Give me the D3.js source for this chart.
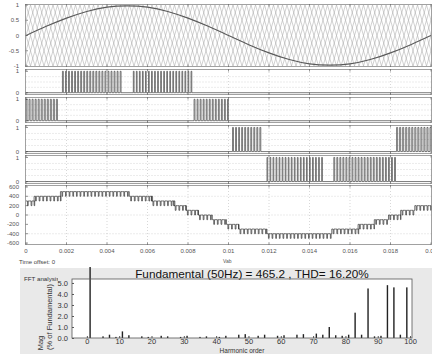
<!DOCTYPE html>
<html>
<head>
<meta charset="utf-8">
<script src="https://cdn.jsdelivr.net/npm/d3@7"></script>
<style>
  html, body { margin: 0; padding: 0; background: #ffffff; }
  svg { display: block; font-family: "Liberation Sans", Arial, sans-serif; }
</style>
</head>
<body>
<svg id="chart" width="432" height="354"></svg>
<script>
// ---------- time axis shared by the scope traces ----------
const timeTicks = [0, 0.002, 0.004, 0.006, 0.008, 0.01, 0.012, 0.014, 0.016, 0.018, 0.02];
const timeTickLabels = ["0", "0.002", "0.004", "0.006", "0.008", "0.01", "0.012", "0.014", "0.016", "0.018", "0.02"];

// ---------- trace 1: sinusoidal reference and level-shifted carriers ----------
const refTime   = [0, 0.001, 0.002, 0.003, 0.004, 0.005, 0.006, 0.007, 0.008, 0.009, 0.01,
                   0.011, 0.012, 0.013, 0.014, 0.015, 0.016, 0.017, 0.018, 0.019, 0.02];
const refValues = [0, 0.30, 0.57, 0.79, 0.93, 0.97, 0.93, 0.79, 0.57, 0.30, 0,
                   -0.30, -0.57, -0.79, -0.93, -0.97, -0.93, -0.79, -0.57, -0.30, 0];
const refTicks = [1, 0.5, 0, -0.5, -1];
const refTickLabels = ["1", "0.5", "0", "-0.5", "-1"];
const carrierBands = [[0.5, 1], [0, 0.5], [-0.5, 0], [-1, -0.5]];
const carrierFrequency = 2250;          // Hz
const carrierPhaseShifts = [0, 0.5];    // fraction of a carrier period

// ---------- traces 2-5: gate pulse trains (bursts: start, end, duty) ----------
const gateSwitchPeriod = 0.00015;
const gate1Bursts = [[0.0018, 0.0047, 0.30], [0.0053, 0.0083, 0.25]];
const gate2Bursts = [[0.0000, 0.0016, 0.35], [0.0083, 0.0100, 0.30]];
const gate3Bursts = [[0.0102, 0.0116, 0.30], [0.0183, 0.0200, 0.35]];
const gate4Bursts = [[0.0119, 0.0147, 0.25], [0.0152, 0.0183, 0.30]];
const gateTicks = [1, 0];
const gateTickLabels = ["1", "0"];

// ---------- trace 6: line voltage Vab (start, end, lower level, upper level, notch fraction) ----------
const vabSwitchPeriod = 0.00018;
const vabSegments = [
  [0.0000, 0.0004,  200,  300, 0.22],
  [0.0004, 0.0017,  300,  400, 0.22],
  [0.0017, 0.0051,  400,  500, 0.20],
  [0.0051, 0.0062,  300,  400, 0.22],
  [0.0062, 0.0073,  200,  300, 0.22],
  [0.0073, 0.0079,  100,  200, 0.22],
  [0.0079, 0.0085,    0,  100, 0.22],
  [0.0085, 0.0092, -100,    0, 0.22],
  [0.0092, 0.0099, -200, -100, 0.22],
  [0.0099, 0.0105, -300, -200, 0.22],
  [0.0105, 0.0119, -400, -300, 0.22],
  [0.0119, 0.0151, -500, -400, 0.20],
  [0.0151, 0.0164, -400, -300, 0.22],
  [0.0164, 0.0172, -300, -200, 0.22],
  [0.0172, 0.0179, -200, -100, 0.22],
  [0.0179, 0.0185, -100,    0, 0.22],
  [0.0185, 0.0192,    0,  100, 0.22],
  [0.0192, 0.0200,  100,  200, 0.22]
];
const vabTicks = [600, 400, 200, 0, -200, -400, -600];
const vabTickLabels = ["600", "400", "200", "0", "-200", "-400", "-600"];

// ---------- FFT analysis ----------
const harmonicOrders     = [1, 5, 7, 9, 11, 13, 17, 19, 23, 25, 29, 31, 35, 37, 41, 43, 47, 49, 53, 55,
                            59, 61, 65, 67, 71, 73, 75, 77, 79, 81, 83, 85, 87, 89, 91, 93, 95, 97, 99];
const harmonicMagnitudes = [100, 0.15, 0.30, 0.10, 0.60, 0.25, 0.15, 0.10, 0.20, 0.15, 0.10, 0.20, 0.10, 0.15, 0.10, 0.20, 0.30, 0.35, 0.20, 0.30,
                            0.20, 0.25, 0.30, 0.35, 0.40, 0.30, 1.00, 0.25, 0.20, 0.30, 2.30, 0.30, 4.50, 0.15, 0.20, 4.80, 4.60, 0.30, 4.60];
const fftXTicks = [0, 10, 20, 30, 40, 50, 60, 70, 80, 90, 100];
const fftYTicks = [0, 1, 2, 3, 4, 5];
const fftTitle = "Fundamental (50Hz) = 465.2 , THD= 16.20%";

// ---------- drawing ----------
const svg = d3.select("#chart");
const defs = svg.append("defs");

const x = d3.scaleLinear().domain([0, 0.02]).range([26, 431]);
const frameLeft = 25.5, frameRight = 431.5;

const panels = [
  { key: "ref",  top: 4,   bottom: 67,  domain: [-1, 1],        ticks: refTicks,  labels: refTickLabels, grid: [] },
  { key: "g1",   top: 69,  bottom: 95,  domain: [-0.06, 1.06],  ticks: gateTicks, labels: gateTickLabels, grid: [0.25, 0.5, 0.75] },
  { key: "g2",   top: 97,  bottom: 123, domain: [-0.06, 1.06],  ticks: gateTicks, labels: gateTickLabels, grid: [0.25, 0.5, 0.75] },
  { key: "g3",   top: 125, bottom: 154, domain: [-0.06, 1.06],  ticks: gateTicks, labels: gateTickLabels, grid: [0.25, 0.5, 0.75] },
  { key: "g4",   top: 155, bottom: 184, domain: [-0.06, 1.06],  ticks: gateTicks, labels: gateTickLabels, grid: [0.25, 0.5, 0.75] },
  { key: "vab",  top: 185, bottom: 245, domain: [-620, 620],    ticks: vabTicks,  labels: vabTickLabels, grid: [400, 0, -400] }
];

panels.forEach(p => {
  p.y = d3.scaleLinear().domain(p.domain).range([p.bottom - 1, p.top + 1]);
  defs.append("clipPath").attr("id", "clip-" + p.key)
    .append("rect").attr("x", frameLeft).attr("y", p.top)
    .attr("width", frameRight - frameLeft).attr("height", p.bottom - p.top);
});

function drawFrame(p) {
  const g = svg.append("g");
  // dotted grid
  const grid = g.append("g").attr("stroke", "#bdbdbd").attr("stroke-width", 0.6).attr("stroke-dasharray", "1,2");
  if (p.key !== "ref") {
    timeTicks.slice(1, -1).forEach(t => {
      grid.append("line").attr("x1", x(t)).attr("x2", x(t)).attr("y1", p.top).attr("y2", p.bottom);
    });
    p.grid.forEach(v => {
      grid.append("line").attr("x1", frameLeft).attr("x2", frameRight).attr("y1", p.y(v)).attr("y2", p.y(v));
    });
  }
  // frame
  g.append("rect").attr("x", frameLeft).attr("y", p.top + 0.5)
    .attr("width", frameRight - frameLeft).attr("height", p.bottom - p.top - 1)
    .attr("fill", "none").attr("stroke", "#8a8a8a").attr("stroke-width", 0.8);
  // time tick marks on top and bottom edges
  const tk = g.append("g").attr("stroke", "#666").attr("stroke-width", 0.7);
  timeTicks.forEach(t => {
    tk.append("line").attr("x1", x(t)).attr("x2", x(t)).attr("y1", p.top).attr("y2", p.top + 2.5);
    tk.append("line").attr("x1", x(t)).attr("x2", x(t)).attr("y1", p.bottom - 2.5).attr("y2", p.bottom);
  });
  // value ticks and labels
  p.ticks.forEach((v, i) => {
    tk.append("line").attr("x1", frameLeft).attr("x2", frameLeft + 2.5).attr("y1", p.y(v)).attr("y2", p.y(v));
    g.append("text").attr("x", 19).attr("y", p.y(v)).attr("dy", "0.35em")
      .attr("text-anchor", "end").attr("font-size", 6).attr("fill", "#555")
      .text(p.labels[i]);
  });
  return g;
}

panels.forEach(drawFrame);

// trace 1: carriers and reference
(function () {
  const p = panels[0];
  const g = svg.append("g").attr("clip-path", "url(#clip-ref)");
  const T = 1 / carrierFrequency;
  const line = d3.line().x(d => x(d[0])).y(d => p.y(d[1]));
  carrierBands.forEach(([lo, hi]) => {
    carrierPhaseShifts.forEach(ph => {
      const pts = [];
      for (let n = -1; (n - 1) * T <= 0.02; n++) {
        pts.push([(n + ph) * T, hi]);
        pts.push([(n + ph + 0.5) * T, lo]);
      }
      g.append("path").attr("d", line(pts)).attr("fill", "none")
        .attr("stroke", "#a2a2a2").attr("stroke-width", 0.5);
    });
  });
  const refLine = d3.line().curve(d3.curveNatural)
    .x((d, i) => x(refTime[i])).y(d => p.y(d));
  g.append("path").attr("d", refLine(refValues)).attr("fill", "none")
    .attr("stroke", "#5a5a5a").attr("stroke-width", 1.1);
})();

// traces 2-5: gate pulses
function gatePoints(bursts) {
  const pts = [[0, 0]];
  bursts.forEach(([t0, t1, duty]) => {
    for (let t = t0; t < t1 - 1e-9; t += gateSwitchPeriod) {
      const w = duty * gateSwitchPeriod;
      pts.push([t, 0], [t, 1], [t + w, 1], [t + w, 0]);
    }
  });
  pts.push([0.02, 0]);
  return pts;
}
[[panels[1], gate1Bursts], [panels[2], gate2Bursts], [panels[3], gate3Bursts], [panels[4], gate4Bursts]]
  .forEach(([p, bursts]) => {
    const line = d3.line().x(d => x(d[0])).y(d => p.y(d[1]));
    svg.append("path").attr("clip-path", "url(#clip-" + p.key + ")")
      .attr("d", line(gatePoints(bursts))).attr("fill", "none")
      .attr("stroke", "#444").attr("stroke-width", 0.7);
  });

// trace 6: Vab
(function () {
  const p = panels[5];
  const pts = [];
  vabSegments.forEach(([t0, t1, lo, hi, f]) => {
    const P = vabSwitchPeriod;
    for (let t = t0; t < t1 - 1e-9; t += P) {
      const a = t + (1 - f) * P / 2;
      const b = a + f * P;
      pts.push([t, hi], [a, hi], [a, lo], [Math.min(b, t1), lo], [Math.min(b, t1), hi]);
    }
    pts.push([t1, hi]);
  });
  const line = d3.line().x(d => x(d[0])).y(d => p.y(d[1]));
  svg.append("path").attr("clip-path", "url(#clip-vab)")
    .attr("d", line(pts)).attr("fill", "none")
    .attr("stroke", "#333").attr("stroke-width", 0.7);

  // time axis labels
  timeTicks.forEach((t, i) => {
    svg.append("text").attr("x", x(t)).attr("y", 253)
      .attr("text-anchor", "middle").attr("font-size", 6).attr("fill", "#555")
      .text(timeTickLabels[i]);
  });
})();

svg.append("text").attr("x", 19).attr("y", 264).attr("font-size", 6).attr("fill", "#444").text("Time offset: 0");
svg.append("text").attr("x", 223).attr("y", 263).attr("font-size", 5).attr("fill", "#555").text("Vab");

// ---------- FFT panel ----------
svg.append("rect").attr("x", 20).attr("y", 268).attr("width", 412).attr("height", 86).attr("fill", "#e9e9e9");

defs.append("clipPath").attr("id", "clip-fft-caption")
  .append("rect").attr("x", 20).attr("y", 276).attr("width", 38).attr("height", 10);
svg.append("text").attr("x", 24).attr("y", 281).attr("font-size", 6.2).attr("fill", "#333")
  .attr("clip-path", "url(#clip-fft-caption)").text("FFT analysis");

const hx = d3.scaleLinear().domain([-4.6, 100.6]).range([72, 412]);
const hy = d3.scaleLinear().domain([0, 5.36]).range([338, 279]);

svg.append("rect").attr("x", 72).attr("y", 279).attr("width", 340).attr("height", 59)
  .attr("fill", "#ffffff");

defs.append("clipPath").attr("id", "clip-fft")
  .append("rect").attr("x", 72).attr("y", 267).attr("width", 340).attr("height", 71);

svg.append("g").attr("clip-path", "url(#clip-fft)")
  .selectAll("rect").data(harmonicOrders).join("rect")
  .attr("x", d => hx(d) - 0.7)
  .attr("width", 1.4)
  .attr("y", (d, i) => hy(harmonicMagnitudes[i]))
  .attr("height", (d, i) => hy(0) - hy(harmonicMagnitudes[i]))
  .attr("fill", "#222");

// title drawn before the box so the frame runs under it
const title = svg.append("text").attr("x", 252).attr("y", 278)
  .attr("text-anchor", "middle").attr("font-size", 12).attr("fill", "#111").text(fftTitle);
const tw = title.node().getComputedTextLength();
title.attr("font-size", 12 * 234 / tw);

svg.append("rect").attr("x", 72).attr("y", 279).attr("width", 340).attr("height", 59)
  .attr("fill", "none").attr("stroke", "#555").attr("stroke-width", 0.8);

const fftAxisY = svg.append("g").attr("transform", "translate(72,0)")
  .call(d3.axisLeft(hy).tickValues(fftYTicks).tickSize(-2).tickPadding(4));
const fftAxisX = svg.append("g").attr("transform", "translate(0,338)")
  .call(d3.axisBottom(hx).tickValues(fftXTicks).tickSize(-2).tickPadding(1));
[fftAxisY, fftAxisX].forEach(a => {
  a.select(".domain").remove();
  a.selectAll("line").attr("stroke", "#555");
  a.selectAll("text").attr("font-size", 7.5).attr("fill", "#333")
    .attr("font-family", "Liberation Sans, Arial, sans-serif");
});

svg.append("text").attr("x", 242).attr("y", 353).attr("text-anchor", "middle")
  .attr("font-size", 6.5).attr("fill", "#333").text("Harmonic order");
svg.append("text").attr("transform", "translate(43,343) rotate(-90)").attr("text-anchor", "middle")
  .attr("font-size", 7.5).attr("fill", "#333").text("Mag");
svg.append("text").attr("transform", "translate(52,317) rotate(-90)").attr("text-anchor", "middle")
  .attr("font-size", 7.5).attr("fill", "#333").text("(% of Fundamental)");
</script>
</body>
</html>
